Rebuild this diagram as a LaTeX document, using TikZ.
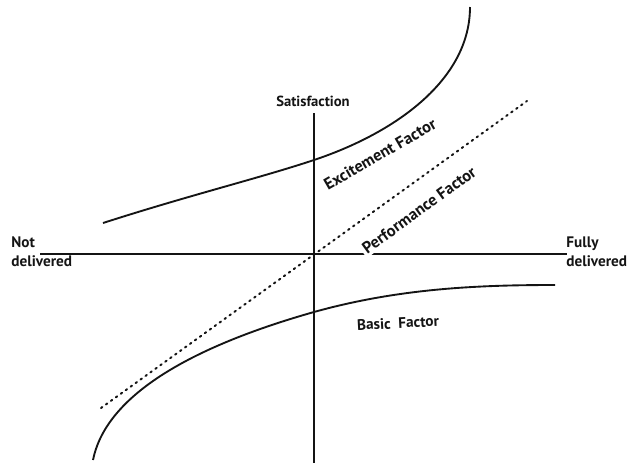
\documentclass[tikz,border=0pt]{standalone}
\usepackage{fontspec}
\setmainfont{PT Sans}
\usetikzlibrary{positioning}
\definecolor{inkDark}{HTML}{141414}

\begin{document}
\begin{tikzpicture}[x=0.03cm, y=-0.03cm,
    axis/.style={draw=inkDark, line width=1.6pt},
    curve/.style={draw=inkDark, line width=1.6pt},
    diag/.style={draw=inkDark, line width=1.7pt, dash pattern=on 1.4pt off 3.8pt, line cap=round},
    lbl/.style={font=\fontsize{13}{16}\selectfont\bfseries, text=inkDark, inner sep=1pt},
    tag/.style={lbl, font=\fontsize{14}{16}\selectfont\bfseries, fill=white, inner sep=2pt},
  ]
  \useasboundingbox (0,0) rectangle (632,465);

  % axes
  \coordinate (west) at (40,254);
  \coordinate (east) at (567,254);
  \coordinate (north) at (314,113);
  \coordinate (south) at (314,463);
  \draw[axis] (west) -- (east);
  \draw[axis] (north) -- (south);

  \node[lbl, font=\fontsize{12.5}{15}\selectfont\bfseries] (sat) at (313,101) {Satisfaction};
  \node[lbl, align=left, anchor=west] (notdel) at (10,252) {Not\\delivered};
  \node[lbl, align=left, anchor=west] (fulldel) at (565,252) {Fully\\delivered};

  % factor labels (white box cuts the axes)
  \node[tag, rotate=30] (excite) at (380,154) {Excitement Factor};
  \node[tag, rotate=36] (perf) at (419,210) {Performance Factor};
  \node[lbl, rotate=3] (basic) at (398,323) {Basic\ \ Factor};

  % curves
  \coordinate (exA) at (103,223);
  \coordinate (exB) at (314,160);
  \coordinate (exC) at (470,7);
  \draw[curve] (exA) .. controls (190,195) and (260,178) .. (exB)
    .. controls (395,133) and (470,80) .. (exC);

  \coordinate (baA) at (93,460);
  \coordinate (baB) at (314,312);
  \coordinate (baC) at (555,285);
  \draw[curve] (baA) .. controls (105,400) and (180,350) .. (baB)
    .. controls (400,288) and (480,285) .. (baC);

  \coordinate (pfA) at (101,408);
  \coordinate (pfB) at (527,101);
  \draw[diag] (pfA) -- (pfB);
\end{tikzpicture}
\end{document}
